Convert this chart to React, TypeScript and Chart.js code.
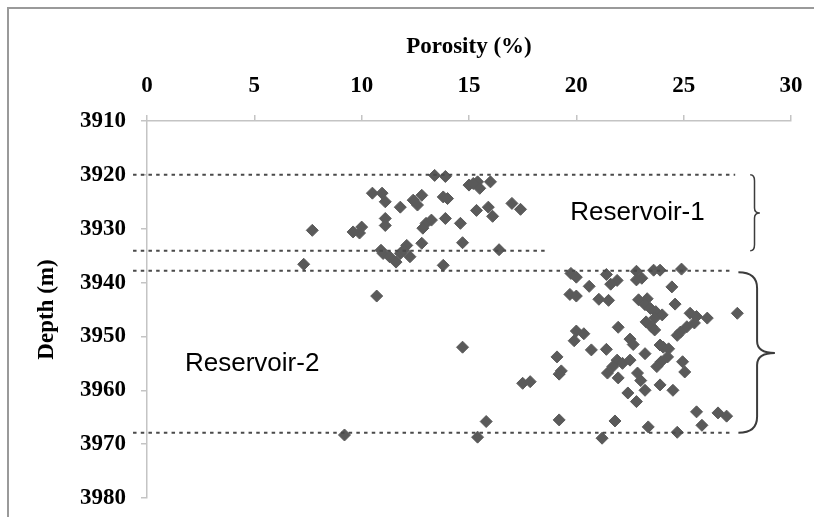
import React, { useEffect, useRef } from "react";
import { Chart, registerables } from "chart.js";

Chart.register(...registerables);

// Reservoir-1 samples: porosity (%) and depth (m)
const porosityR1 = [13.4, 13.9, 15.0, 15.4, 15.5, 16.0, 15.2, 10.5, 10.95, 11.1, 11.8, 12.4, 12.8, 12.6, 13.8, 14.0, 15.35, 15.9, 16.1, 17.0, 17.4, 7.7, 9.6, 10.0, 9.9, 11.1, 11.1, 13.0, 13.25, 12.85, 13.9, 14.6, 14.7, 12.8, 16.4, 12.1, 11.8, 12.25, 11.6, 11.0, 11.3, 10.9, 11.95, 7.3, 13.8];
const depthR1 = [3920.1, 3920.3, 3921.9, 3921.3, 3922.5, 3921.3, 3921.6, 3923.4, 3923.4, 3925.0, 3926.0, 3924.7, 3923.8, 3925.6, 3924.1, 3924.4, 3926.6, 3926.0, 3927.7, 3925.3, 3926.4, 3930.3, 3930.6, 3929.7, 3930.8, 3928.1, 3929.4, 3929.0, 3928.4, 3929.9, 3928.1, 3929.0, 3932.6, 3932.7, 3933.9, 3933.1, 3934.6, 3935.2, 3936.2, 3934.6, 3935.2, 3934.0, 3934.0, 3936.6, 3936.8];

// Reservoir-2 samples
const porosityR2 = [19.75, 20.0, 21.4, 22.8, 23.05, 22.8, 23.6, 23.9, 24.9, 21.9, 21.6, 20.6, 24.45, 19.7, 20.0, 21.05, 21.5, 22.9, 23.3, 23.2, 24.6, 23.45, 23.7, 24.0, 23.25, 23.65, 23.5, 23.65, 25.3, 25.6, 25.5, 25.15, 24.85, 24.7, 26.1, 27.5, 20.0, 20.35, 19.9, 21.95, 22.5, 22.65, 20.7, 21.4, 19.1, 19.3, 19.2, 23.2, 23.9, 24.05, 24.3, 21.9, 22.15, 22.5, 21.7, 21.45, 21.95, 22.85, 23.0, 23.2, 22.4, 22.8, 24.25, 23.95, 23.75, 24.95, 25.05, 23.9, 24.5, 17.5, 17.85, 19.2, 21.8, 15.8, 15.4, 21.2, 23.35, 24.7, 25.6, 25.85, 26.6, 27.0, 9.2, 14.7, 10.7];
const depthR2 = [3938.3, 3939.0, 3938.5, 3937.9, 3939.2, 3939.5, 3937.7, 3937.7, 3937.5, 3939.6, 3940.3, 3940.7, 3940.8, 3942.2, 3942.5, 3943.1, 3943.3, 3943.2, 3943.0, 3944.1, 3944.0, 3944.8, 3945.4, 3946.0, 3947.3, 3946.6, 3948.2, 3948.8, 3945.7, 3946.3, 3947.5, 3948.2, 3949.2, 3949.8, 3946.6, 3945.7, 3949.0, 3949.5, 3950.8, 3948.3, 3950.5, 3951.5, 3952.5, 3952.4, 3953.8, 3956.4, 3957.0, 3953.2, 3951.6, 3952.0, 3952.3, 3954.4, 3955.0, 3954.4, 3955.6, 3956.8, 3957.7, 3956.8, 3958.2, 3960.0, 3960.5, 3962.1, 3953.8, 3954.7, 3955.6, 3954.7, 3956.6, 3959.0, 3960.0, 3958.7, 3958.4, 3965.5, 3965.7, 3965.8, 3968.7, 3968.9, 3966.8, 3967.8, 3964.0, 3966.5, 3964.2, 3964.8, 3968.3, 3952.0, 3942.5];

// Axis ticks
const porosityTicks = [0, 5, 10, 15, 20, 25, 30];
const depthTicks = [3910, 3920, 3930, 3940, 3950, 3960, 3970, 3980];

// Reservoir boundaries (depth, m) and how far (porosity %) each dashed line runs
const boundaryDepths = [3920, 3934.1, 3937.8, 3967.9];
const boundaryEnds = [27.4, 18.6, 27.25, 27.25];

// Reservoir zones: top, bottom, brace tip depth and label
const zoneTops = [3920, 3938.1];
const zoneBottoms = [3934.1, 3967.9];
const zoneMids = [3927.1, 3953.1];
const zoneNames = ["Reservoir-1", "Reservoir-2"];
const zoneLabelPorosity = [22.85, 4.9];
const zoneLabelDepth = [3927.0, 3955.0];

const serif = '"Liberation Serif", "Times New Roman", serif';

const overlayPlugin = {
  id: "overlay",
  beforeDraw(chart: any) {
    const ctx = chart.ctx;
    ctx.save();
    ctx.fillStyle = "#ffffff";
    ctx.fillRect(0, 0, chart.width, chart.height);
    ctx.strokeStyle = "#9a9a9a";
    ctx.lineWidth = 2;
    ctx.beginPath();
    ctx.moveTo(8, chart.height);
    ctx.lineTo(8, 8);
    ctx.lineTo(chart.width, 8);
    ctx.stroke();
    ctx.restore();
  },
  afterDatasetsDraw(chart: any) {
    const { ctx } = chart;
    const x = chart.scales.x;
    const y = chart.scales.y;
    ctx.save();
    // dashed boundaries
    ctx.strokeStyle = "#4a4a4a";
    ctx.lineWidth = 2;
    ctx.setLineDash([3.5, 4.2]);
    const x0 = x.getPixelForValue(-0.65);
    boundaryDepths.forEach((d, i) => {
      const py = y.getPixelForValue(d);
      ctx.beginPath();
      ctx.moveTo(x0, py);
      ctx.lineTo(x.getPixelForValue(boundaryEnds[i]), py);
      ctx.stroke();
    });
    ctx.setLineDash([]);

    // braces
    const braceX = [
      [28.1, 28.3, 28.55],
      [27.55, 28.42, 29.25],
    ];
    const braceW = [1.5, 2];
    zoneTops.forEach((top, i) => {
      const [l, m, t] = braceX[i].map((v) => x.getPixelForValue(v));
      const yt = y.getPixelForValue(top);
      const yb = y.getPixelForValue(zoneBottoms[i]);
      const ym = y.getPixelForValue(zoneMids[i]);
      const r = i === 0 ? 6 : 16;
      const r2 = i === 0 ? 5 : 12;
      ctx.strokeStyle = "#3c3c3c";
      ctx.lineWidth = braceW[i];
      ctx.beginPath();
      ctx.moveTo(l, yt);
      ctx.quadraticCurveTo(m, yt, m, yt + r);
      ctx.lineTo(m, ym - r2);
      ctx.quadraticCurveTo(m, ym, t, ym);
      ctx.quadraticCurveTo(m, ym, m, ym + r2);
      ctx.lineTo(m, yb - r);
      ctx.quadraticCurveTo(m, yb, l, yb);
      ctx.stroke();
    });

    // labels
    ctx.fillStyle = "#000000";
    ctx.font = '26px "Liberation Sans", Arial, sans-serif';
    ctx.textAlign = "center";
    ctx.textBaseline = "middle";
    zoneNames.forEach((name, i) => {
      ctx.fillText(name, x.getPixelForValue(zoneLabelPorosity[i]), y.getPixelForValue(zoneLabelDepth[i]));
    });
    ctx.restore();
  },
};

export default function App() {
  const ref = useRef<HTMLCanvasElement | null>(null);

  useEffect(() => {
    if (!ref.current) return;
    const toPoints = (xs: number[], ys: number[]) => xs.map((v, i) => ({ x: v, y: ys[i] }));
    const pointStyle = {
      pointStyle: "rectRot",
      pointRadius: 6,
      backgroundColor: "#5a5a5a",
      borderColor: "#5a5a5a",
      borderWidth: 1,
    };
    const tickFont = { family: serif, size: 23, weight: "bold" as const };
    const chart = new Chart(ref.current, {
      type: "scatter",
      data: {
        datasets: [
          { label: "Reservoir-1", data: toPoints(porosityR1, depthR1), ...pointStyle } as any,
          { label: "Reservoir-2", data: toPoints(porosityR2, depthR2), ...pointStyle } as any,
        ],
      },
      options: {
        animation: false,
        responsive: false,
        maintainAspectRatio: false,
        layout: { padding: { left: 0, top: 0, right: 23, bottom: 19 } },
        plugins: { legend: { display: false }, tooltip: { enabled: false } },
        scales: {
          x: {
            type: "linear",
            position: "top",
            min: porosityTicks[0],
            max: porosityTicks[porosityTicks.length - 1],
            afterBuildTicks: (s: any) => {
              s.ticks = porosityTicks.map((v) => ({ value: v }));
            },
            ticks: {
              padding: 15,
              color: "#000",
              font: tickFont,
              maxRotation: 0,
              autoSkip: false,
              callback: (v: any) => String(v),
            },
            grid: { drawOnChartArea: false, tickLength: 6, color: "#c4c4c4", lineWidth: 1.5 },
            border: { display: true, color: "#c4c4c4", width: 1.5 },
            title: { display: true, text: "Porosity (%)", color: "#000", font: tickFont, padding: { top: 33, bottom: 0 } },
            afterFit: (s: any) => {
              s.height = 121;
              s.paddingLeft = 0;
              s.paddingRight = 0;
            },
          },
          y: {
            type: "linear",
            position: "left",
            reverse: true,
            min: depthTicks[0],
            max: depthTicks[depthTicks.length - 1],
            afterBuildTicks: (s: any) => {
              s.ticks = depthTicks.map((v) => ({ value: v }));
            },
            ticks: {
              padding: 15,
              color: "#000",
              font: tickFont,
              autoSkip: false,
              callback: (v: any) => String(v),
            },
            grid: { drawOnChartArea: false, tickLength: 6, color: "#c4c4c4", lineWidth: 1.5 },
            border: { display: true, color: "#c4c4c4", width: 1.5 },
            title: { display: true, text: "Depth (m)", color: "#000", font: tickFont, padding: { top: 33, bottom: 0 } },
            afterFit: (s: any) => {
              s.width = 147;
              s.paddingTop = 0;
              s.paddingBottom = 0;
            },
          },
        },
      } as any,
      plugins: [overlayPlugin],
    });
    return () => chart.destroy();
  }, []);

  return (
    <div style={{ position: "absolute", left: 0, top: 0, width: 814, height: 517, overflow: "hidden" }}>
      <canvas ref={ref} width={814} height={517} style={{ display: "block", width: 814, height: 517 }} />
    </div>
  );
}
